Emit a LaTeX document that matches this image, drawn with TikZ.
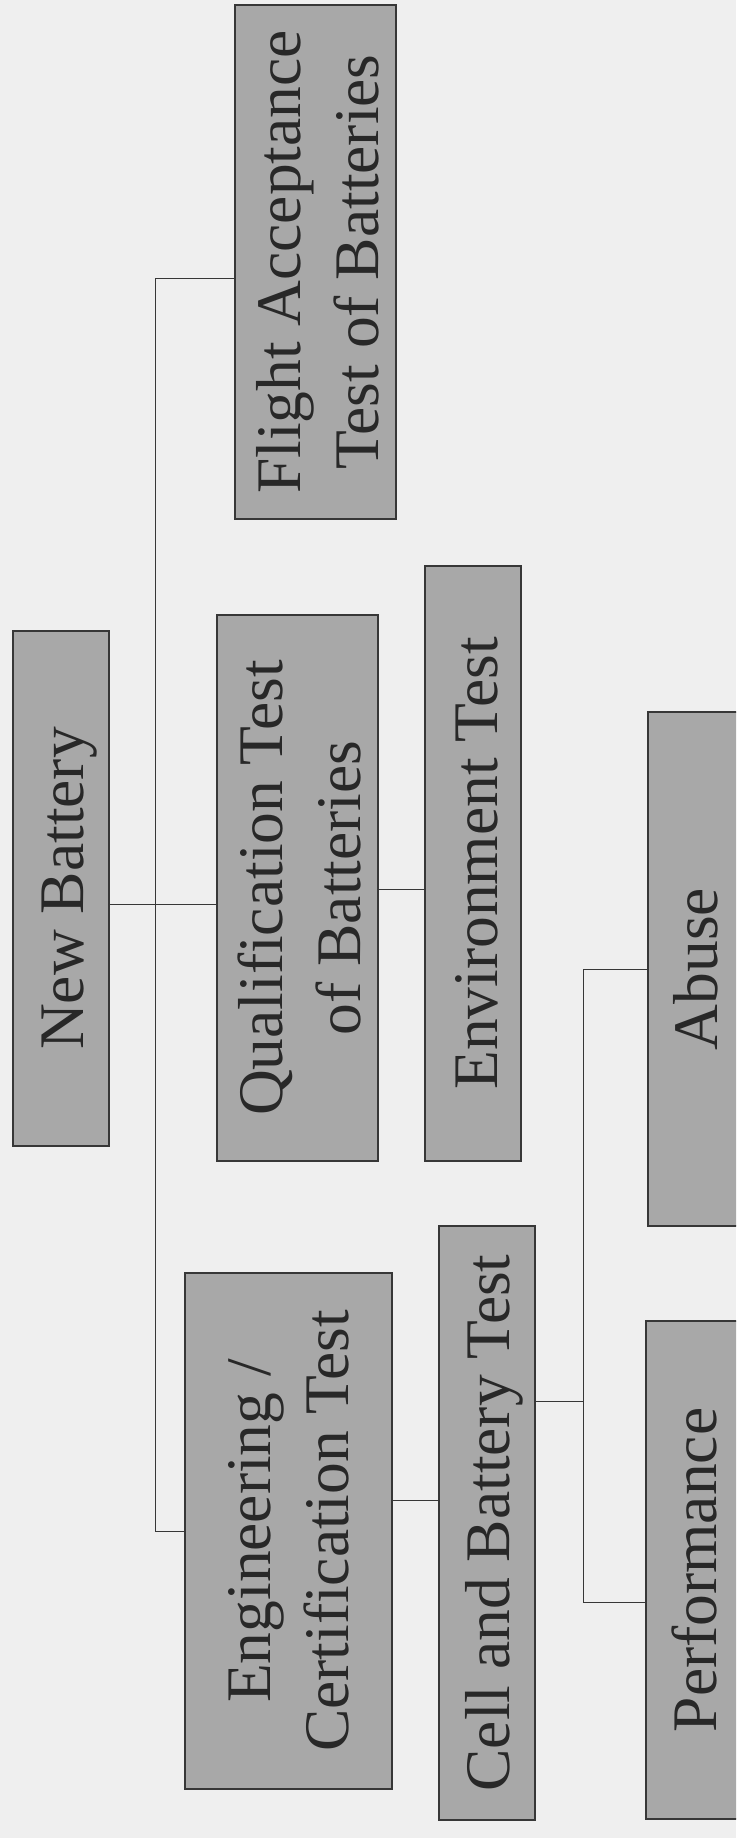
\documentclass[tikz,border=0pt]{standalone}
\usepackage{fontspec}
\setmainfont{Liberation Serif}
\usepackage{graphicx}
\definecolor{bg}{RGB}{239,239,239}
\definecolor{boxfill}{RGB}{168,168,168}
\definecolor{boxline}{RGB}{55,55,55}
\definecolor{txt}{RGB}{40,40,40}
% #1: twice the rightward shift of the text block (box width unaffected)
\newcommand\vtext[2][13pt]{\makebox[0pt]{\hspace*{#1}\rotatebox{90}{\fontsize{63.5}{78}\selectfont\begin{tabular}{@{}c@{}}#2\end{tabular}}}}
\tikzset{
  box/.style={draw=boxline, line width=1.3pt, fill=boxfill, inner sep=0pt, text=txt, rectangle},
  conn/.style={draw=boxline, line width=1pt},
}
\begin{document}
\begin{tikzpicture}[x=1pt, y=-1pt]
\fill[bg] (0,0) rectangle (736,1838);
\useasboundingbox (0,0) rectangle (736,1838);
\clip (0,0) rectangle (736,1838);

\node[box, minimum width=96pt, minimum height=515pt] (NB) at (61,888.5) {\vtext{New Battery}};
\node[box, minimum width=161pt, minimum height=546pt] (Q) at (297.5,888) {\vtext[16pt]{Qualification Test\\of Batteries}};
\node[box, minimum width=161pt, minimum height=514pt] (F) at (315.5,262) {\vtext[16pt]{Flight Acceptance\\Test of Batteries}};
\node[box, minimum width=96pt, minimum height=595pt] (Env) at (473,863.5) {\vtext[17pt]{Environment Test}};
\node[box, minimum width=207pt, minimum height=516pt] (Eng) at (288.5,1531) {\vtext[10pt]{Engineering /\\Certification Test}};
\node[box, minimum width=96pt, minimum height=594pt] (Cell) at (487,1523) {\vtext{Cell and Battery Test}};
\node[box, minimum width=96pt, minimum height=514pt] (Ab) at (696,969) {\vtext[11pt]{Abuse}};
\node[box, minimum width=96pt, minimum height=498pt] (Perf) at (694,1570) {\vtext{Performance}};

\coordinate (t1) at (155,278);
\coordinate (t2) at (155,1531);
\coordinate (j1) at (155,904);
\coordinate (j2) at (400,889);
\coordinate (j3) at (400,1500);
\coordinate (b1) at (583,969);
\coordinate (b2) at (583,1602);
\coordinate (b3) at (583,1401);

\draw[conn] (F.west |- t1) -| (t2) -- (Eng.west |- t2);
\draw[conn] (NB.east |- j1) -- (Q.west |- j1);
\draw[conn] (Q.east |- j2) -- (Env.west |- j2);
\draw[conn] (Eng.east |- j3) -- (Cell.west |- j3);
\draw[conn] (Ab.west |- b1) -| (b2) -- (Perf.west |- b2);
\draw[conn] (Cell.east |- b3) -- (b3);
\end{tikzpicture}
\end{document}
